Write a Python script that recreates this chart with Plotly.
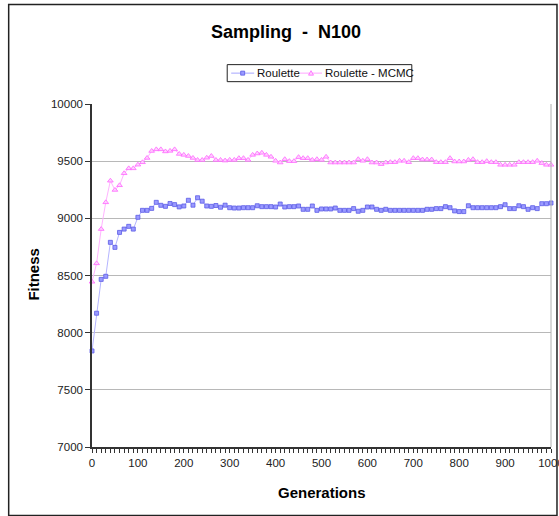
import plotly.graph_objects as go

generations = list(range(0, 1001, 10))

roulette = [
    7840, 8170, 8466, 8493, 8790, 8746, 8877, 8906, 8930, 8906,
    9009, 9070, 9070, 9087, 9140, 9114, 9105, 9130, 9120, 9100,
    9108, 9158, 9115, 9180, 9150, 9108, 9105, 9112, 9097, 9115,
    9093, 9090, 9090, 9093, 9093, 9093, 9110, 9102, 9102, 9102,
    9099, 9125, 9099, 9102, 9102, 9108, 9079, 9079, 9108, 9070,
    9082, 9082, 9082, 9090, 9070, 9070, 9070, 9085, 9062, 9070,
    9099, 9099, 9079, 9070, 9079, 9070, 9070, 9070, 9070, 9070,
    9070, 9070, 9070, 9079, 9079, 9085, 9085, 9102, 9093, 9065,
    9059, 9059, 9110, 9093, 9093, 9093, 9093, 9093, 9093, 9102,
    9119, 9085, 9085, 9110, 9102, 9079, 9093, 9085, 9128, 9128,
    9134,
]

roulette_mcmc = [
    8445, 8606, 8906, 9140, 9329, 9248, 9289, 9394, 9437, 9437,
    9469, 9490, 9528, 9589, 9603, 9603, 9585, 9590, 9603, 9563,
    9555, 9545, 9528, 9510, 9510, 9530, 9545, 9510, 9510, 9505,
    9511, 9511, 9526, 9526, 9511, 9555, 9567, 9573, 9555, 9538,
    9503, 9488, 9517, 9500, 9500, 9535, 9526, 9526, 9511, 9517,
    9511, 9538, 9488, 9488, 9488, 9488, 9488, 9488, 9517, 9503,
    9517, 9488, 9488, 9474, 9488, 9491, 9491, 9503, 9503, 9491,
    9526, 9526, 9514, 9514, 9514, 9491, 9491, 9491, 9526, 9497,
    9497, 9497, 9511, 9517, 9491, 9491, 9500, 9491, 9491, 9468,
    9468, 9468, 9468, 9491, 9491, 9491, 9491, 9503, 9483, 9468,
    9468,
]

series_names = ["Roulette", "Roulette - MCMC"]
x_ticks = list(range(0, 1001, 100))
y_ticks = list(range(7000, 10001, 500))

W, H = 559, 516
PL, PR, PT, PB = 91.5, 551.5, 104.3, 446.7
PW, PH = PR - PL, PB - PT

BLUE_LINE, BLUE_FILL, BLUE_EDGE = "#b4b4ff", "#9a9aff", "#5a5ae6"
PINK_LINE, PINK_FILL, PINK_EDGE = "#ffb4ff", "#ffd0ff", "#ff66ff"


def px2x(px):
    return (px - PL) / PW


def py2y(py):
    return (PB - py) / PH


fig = go.Figure()
fig.add_trace(go.Scatter(
    x=generations, y=roulette, name=series_names[0], mode="lines+markers",
    line=dict(color=BLUE_LINE, width=1),
    marker=dict(symbol="square", size=4, color=BLUE_FILL,
                line=dict(color=BLUE_EDGE, width=0.8)),
    cliponaxis=False, showlegend=False,
))
fig.add_trace(go.Scatter(
    x=generations, y=roulette_mcmc, name=series_names[1], mode="lines+markers",
    line=dict(color=PINK_LINE, width=1),
    marker=dict(symbol="triangle-up", size=5, color=PINK_FILL,
                line=dict(color=PINK_EDGE, width=0.8)),
    cliponaxis=False, showlegend=False,
))

fig.update_layout(
    width=W, height=H,
    margin=dict(l=PL, r=W - PR, t=PT, b=H - PB, pad=0, autoexpand=False),
    paper_bgcolor="white", plot_bgcolor="white",
    font=dict(family="Liberation Sans, Arial, sans-serif", color="#222", size=11.5),
    showlegend=False,
    xaxis=dict(
        range=[0, 1000], tickvals=x_ticks, ticktext=[str(v) for v in x_ticks],
        showgrid=False, zeroline=False, automargin=False,
        showline=True, linecolor="#333", linewidth=1.5,
        ticks="outside", ticklen=4, tickcolor="#333", tickwidth=1,
        minor=dict(dtick=10, ticks="outside", ticklen=4, tickcolor="#333", showgrid=False),
        tickfont=dict(size=11.5), ticklabeloverflow="allow",
    ),
    yaxis=dict(
        range=[7000, 10000], tickvals=y_ticks, ticktext=[str(v) for v in y_ticks],
        showgrid=True, gridcolor="#b8b8b8", gridwidth=1, zeroline=False, automargin=False,
        showline=True, linecolor="#333", linewidth=1.5,
        ticks="outside", ticklen=5, tickcolor="#333",
        tickfont=dict(size=11.5),
    ),
)

# plot-area right edge and outer chart frame
fig.add_shape(type="line", xref="paper", yref="paper", x0=1, x1=1, y0=0, y1=1,
              line=dict(color="#b0b0b0", width=1))
fig.add_shape(type="rect", xref="paper", yref="paper",
              x0=px2x(8), x1=px2x(557.5), y0=py2y(515), y1=py2y(5),
              line=dict(color="#222", width=1.5), layer="above")

# legend (drawn by hand to match the compact original)
LY = 73.5
fig.add_shape(type="rect", xref="paper", yref="paper",
              x0=px2x(227), x1=px2x(412), y0=py2y(82), y1=py2y(65),
              line=dict(color="#222", width=1), fillcolor="white")
fig.add_shape(type="line", xref="paper", yref="paper",
              x0=px2x(231), x1=px2x(254), y0=py2y(LY), y1=py2y(LY),
              line=dict(color=BLUE_LINE, width=1.2))
fig.add_shape(type="rect", xref="paper", yref="paper",
              x0=px2x(240.5), x1=px2x(244.5), y0=py2y(LY + 2), y1=py2y(LY - 2),
              line=dict(color=BLUE_EDGE, width=0.8), fillcolor=BLUE_FILL)
fig.add_annotation(text=series_names[0], xref="paper", yref="paper",
                   x=px2x(255), y=py2y(LY), xanchor="left", yanchor="middle",
                   showarrow=False, font=dict(size=11.5, color="#111"))
fig.add_shape(type="line", xref="paper", yref="paper",
              x0=px2x(300), x1=px2x(322), y0=py2y(LY), y1=py2y(LY),
              line=dict(color=PINK_LINE, width=1.2))
tri = "M {a},{b} L {c},{d} L {e},{b} Z".format(
    a=px2x(308.5), b=py2y(LY + 2), c=px2x(311), d=py2y(LY - 2.5), e=px2x(313.5))
fig.add_shape(type="path", xref="paper", yref="paper", path=tri,
              line=dict(color=PINK_EDGE, width=0.8), fillcolor=PINK_FILL)
fig.add_annotation(text=series_names[1], xref="paper", yref="paper",
                   x=px2x(323), y=py2y(LY), xanchor="left", yanchor="middle",
                   showarrow=False, font=dict(size=11.5, color="#111"))

# titles
fig.add_annotation(text="<b>Sampling  -  N100</b>", xref="paper", yref="paper",
                   x=px2x(285.5), y=py2y(32), xanchor="center", yanchor="middle",
                   showarrow=False, font=dict(size=18, color="#000"))
fig.add_annotation(text="<b>Fitness</b>", xref="paper", yref="paper",
                   x=px2x(33), y=py2y(274), xanchor="center", yanchor="middle",
                   textangle=-90, showarrow=False, font=dict(size=15, color="#000"))
fig.add_annotation(text="<b>Generations</b>", xref="paper", yref="paper",
                   x=px2x(322), y=py2y(492), xanchor="center", yanchor="middle",
                   showarrow=False, font=dict(size=15, color="#000"))

fig.write_html("out.html")
